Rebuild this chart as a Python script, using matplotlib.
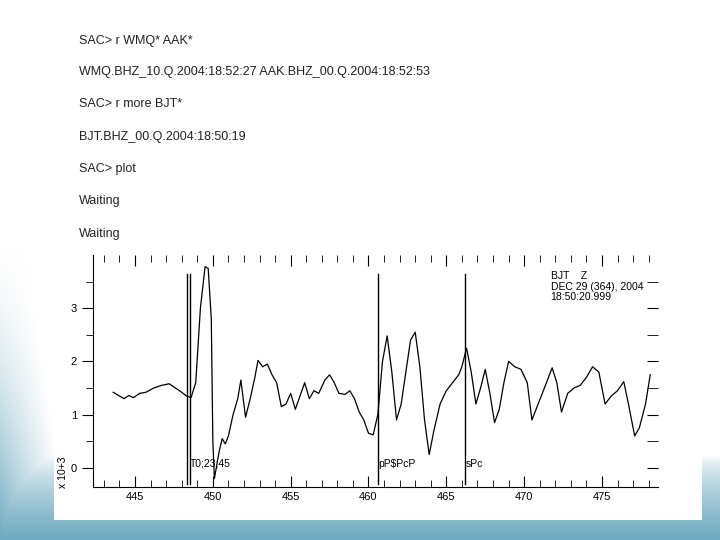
import numpy as np
import matplotlib
matplotlib.use("Agg")
import matplotlib.pyplot as plt
from matplotlib.patches import Rectangle

time_s = [443.6,444.0,444.3,444.6,444.9,445.3,445.7,446.2,446.7,447.2,447.6,448.0,448.3,448.6,448.9,449.2,449.5,449.7,449.9,450.0,450.1,450.4,450.6,450.8,451.0,451.3,451.6,451.8,452.1,452.4,452.7,452.9,453.2,453.5,453.8,454.1,454.4,454.7,455.0,455.3,455.6,455.9,456.2,456.5,456.8,457.2,457.5,457.8,458.1,458.5,458.8,459.1,459.4,459.7,460.0,460.3,460.6,460.9,461.2,461.5,461.8,462.1,462.4,462.7,463.0,463.3,463.6,463.9,464.2,464.6,465.0,465.4,465.8,466.0,466.3,466.6,466.9,467.2,467.5,467.8,468.1,468.4,468.7,469.0,469.4,469.8,470.2,470.5,470.9,471.3,471.8,472.1,472.4,472.8,473.2,473.6,474.0,474.4,474.8,475.2,475.6,476.0,476.4,476.7,477.1,477.4,477.8,478.1]
amplitude = [1.42,1.35,1.30,1.36,1.32,1.40,1.42,1.50,1.55,1.58,1.50,1.42,1.35,1.32,1.60,3.0,3.78,3.75,2.8,0.5,-0.2,0.3,0.55,0.45,0.6,1.0,1.3,1.65,0.95,1.3,1.7,2.02,1.9,1.95,1.75,1.6,1.15,1.2,1.4,1.1,1.35,1.6,1.3,1.45,1.4,1.65,1.75,1.6,1.4,1.38,1.45,1.3,1.05,0.9,0.65,0.62,1.0,2.0,2.48,1.8,0.9,1.2,1.8,2.4,2.55,1.9,0.9,0.25,0.7,1.2,1.45,1.6,1.75,1.9,2.25,1.8,1.2,1.5,1.85,1.4,0.85,1.1,1.6,2.0,1.9,1.85,1.6,0.9,1.2,1.5,1.88,1.6,1.05,1.4,1.5,1.55,1.7,1.9,1.8,1.2,1.35,1.45,1.62,1.2,0.6,0.75,1.2,1.75]
marker_times = [448.35, 448.5, 460.6, 466.2]
marker_labels = ["", "T0;23;45", "pP$PcP", "sPc"]
slide_lines = ["SAC> r WMQ* AAK*",
               "WMQ.BHZ_10.Q.2004:18:52:27 AAK.BHZ_00.Q.2004:18:52:53",
               "SAC> r more BJT*",
               "BJT.BHZ_00.Q.2004:18:50:19",
               "SAC> plot", "Waiting", "Waiting"]
slide_y = [41, 72, 104, 137, 169, 201, 234]
header = ["BJT    Z", "DEC 29 (364), 2004", "18:50:20.999"]

fig = plt.figure(figsize=(7.2, 5.4), dpi=100)
bg = fig.add_axes([0, 0, 1, 1])
H, W = 540, 720
yy, xx = np.mgrid[0:H, 0:W]
t = np.clip((yy - 455) / 85.0, 0, 1) ** 0.7
c = np.clip(1 - xx / 70.0 - (H - yy) / 450.0, 0, 1) * np.clip((yy - 250) / 290, 0, 1)
m = np.clip(np.maximum(t, c), 0, 1)[..., None]
blue = np.array([0.42, 0.66, 0.75])
white = np.array([1, 1, 1])
img = white * (1 - m) + blue * m
bg.imshow(img, extent=[0, W, H, 0], aspect='auto')
bg.set_xlim(0, W); bg.set_ylim(H, 0); bg.axis('off')
bg.add_patch(Rectangle((54, 245), 648, 275, facecolor='white', edgecolor='none'))
for s, y in zip(slide_lines, slide_y):
    bg.text(79, y, s, fontsize=9, va='center', ha='left', color='#222222', family='Liberation Sans')

ax = fig.add_axes([93/720, 53/540, 565/720, 232/540])
ax.plot(time_s, amplitude, color='black', lw=0.9)
ax.set_xlim(442.3, 478.6)
ax.set_ylim(-0.36, 4.0)
for tm, lb in zip(marker_times, marker_labels):
    ax.plot([tm, tm], [-0.3, 3.65], color='black', lw=1.0)
    if lb:
        ax.text(tm + 0.05, 0.08, lb, fontsize=7.5, va='center', ha='left', family='Liberation Sans')
ax.text(0.81, 0.93, "\n".join(header), transform=ax.transAxes, fontsize=7.5, va='top', ha='left',
        family='Liberation Sans', linespacing=1.05)
ax.set_xticks([445, 450, 455, 460, 465, 470, 475])
ax.set_xticks(np.arange(443, 479, 1), minor=True)
ax.set_yticks([0, 1, 2, 3])
ax.set_yticks([0.5, 1.5, 2.5, 3.5], minor=True)
ax.tick_params(which='both', direction='in', top=True, right=True, labelsize=8, length=8)
ax.tick_params(which='minor', length=5)
ax.tick_params(axis='y', which='both', direction='out', right=False)
sec = ax.secondary_yaxis('right')
sec.set_yticks([0, 1, 2, 3])
sec.set_yticks([0.5, 1.5, 2.5, 3.5], minor=True)
sec.tick_params(which='both', direction='in', length=8, labelright=False)
sec.spines['right'].set_visible(False)
for lab in ax.get_xticklabels() + ax.get_yticklabels():
    lab.set_family('Liberation Sans')
for sp in ax.spines.values():
    sp.set_linewidth(0.8)
ax.spines['right'].set_visible(False)
ax.spines['top'].set_visible(False)
fig.text(63/720, 1 - 472/540, "x 10+3", rotation=90, fontsize=7.5, va='center', ha='center',
         family='Liberation Sans')
fig.savefig("out.png", dpi=100)
